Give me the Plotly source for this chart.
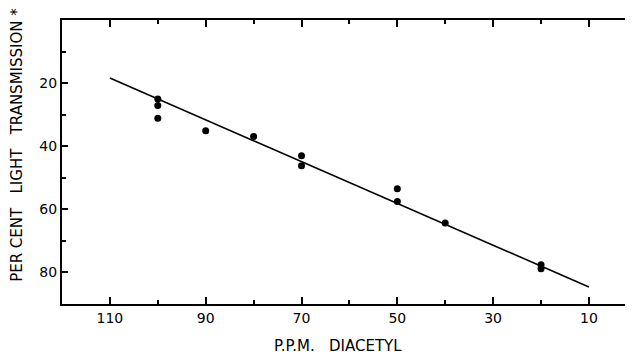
import plotly.graph_objects as go

# Data
ppm = [100, 100, 100, 90, 80, 70, 70, 50, 50, 40, 20, 20]
transmission = [25.0, 27.1, 31.1, 35.1, 36.9, 43.0, 46.2, 53.5, 57.5, 64.3, 77.6, 78.8]

line_ppm = [110, 10]
line_trans = [18.4, 84.6]

x_major = [110, 90, 70, 50, 30, 10]
x_minor = [100, 80, 60, 40, 20]
y_major = [20, 40, 60, 80]
y_minor = [10, 30, 50, 70]

FONT = "DejaVu Sans"
TICK = dict(ticks="inside", tickwidth=1.5, tickcolor="black")

fig = go.Figure()
fig.add_trace(go.Scatter(x=line_ppm, y=line_trans, mode="lines",
                         line=dict(color="black", width=1.6), hoverinfo="skip"))
fig.add_trace(go.Scatter(x=ppm, y=transmission, mode="markers",
                         marker=dict(color="black", size=7)))
fig.add_trace(go.Scatter(x=[None], y=[None], xaxis="x2", yaxis="y2", showlegend=False))

fig.update_layout(
    width=625, height=346,
    margin=dict(l=54, r=0, t=12, b=50),
    paper_bgcolor="white", plot_bgcolor="white",
    showlegend=False,
    font=dict(family=FONT, color="black", size=14),
    xaxis=dict(
        range=[120, 0.8], showgrid=False, zeroline=False,
        showline=True, linecolor="black", linewidth=2,
        ticklen=7, **TICK,
        tickvals=x_major, ticktext=[str(v) for v in x_major],
        tickfont=dict(size=14, family=FONT),
        minor=dict(tickvals=x_minor, ticklen=4, **TICK),
    ),
    xaxis2=dict(
        overlaying="x", side="top", matches="x", showgrid=False, zeroline=False,
        showline=True, linecolor="black", linewidth=2, showticklabels=False,
        ticklen=7, **TICK, tickvals=x_major,
        minor=dict(tickvals=x_minor, ticklen=4, **TICK),
    ),
    yaxis=dict(
        range=[90, 0], showgrid=False, zeroline=False,
        showline=True, linecolor="black", linewidth=2,
        ticklen=6, **TICK,
        tickvals=y_major, ticktext=[str(v) for v in y_major],
        tickfont=dict(size=14, family=FONT),
        minor=dict(tickvals=y_minor, ticklen=4, **TICK),
    ),
    yaxis2=dict(
        overlaying="y", side="right", matches="y", showgrid=False, zeroline=False,
        showline=False, showticklabels=False,
        ticklen=5, **TICK, tickvals=y_major,
        minor=dict(tickvals=y_minor, ticklen=2, **TICK),
    ),
    annotations=[
        dict(text="PER CENT   LIGHT   TRANSMISSION *", xref="paper", yref="paper",
             x=-0.079, y=0.56, xanchor="center", yanchor="middle",
             textangle=-90, showarrow=False, font=dict(size=15, family=FONT)),
        dict(text="P.P.M.   DIACETYL", xref="paper", yref="paper",
             x=0.483, y=-0.148, xanchor="center", yanchor="middle",
             showarrow=False, font=dict(size=15, family=FONT)),
    ],
)

fig.write_html("out.html")
